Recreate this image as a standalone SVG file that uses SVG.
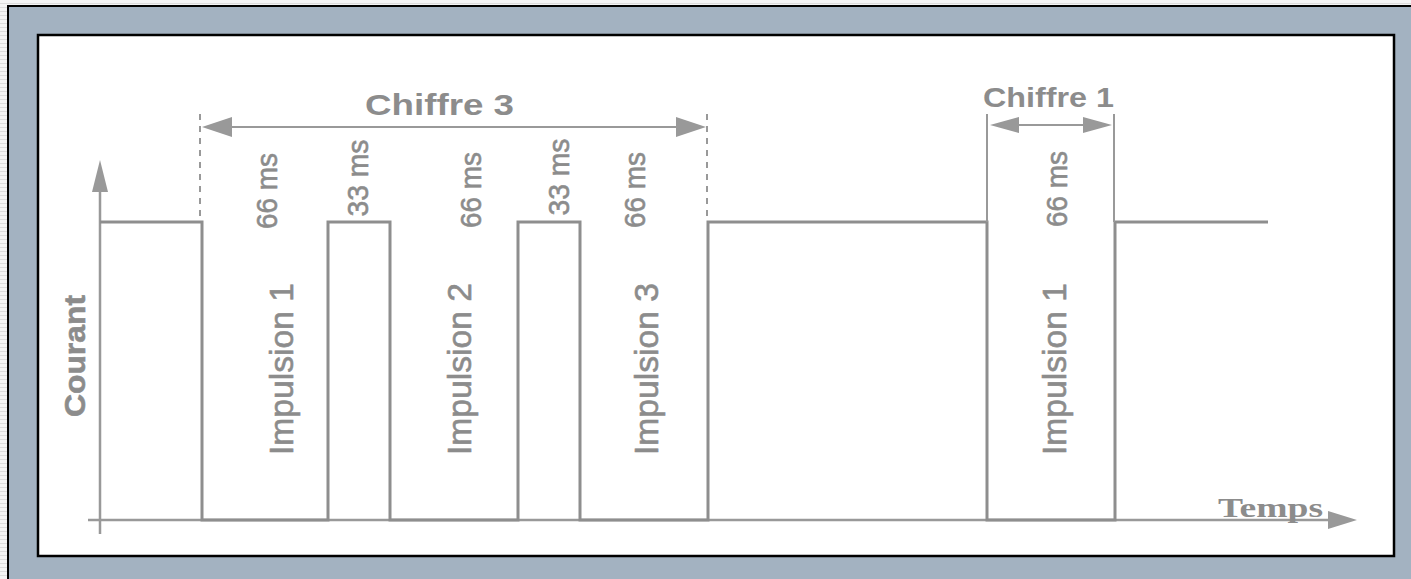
<svg xmlns="http://www.w3.org/2000/svg" width="1411" height="579" viewBox="0 0 1411 579">
<style>
.sig{fill:none;stroke:#8e8e8e;stroke-width:3}
.ax{fill:none;stroke:#999;stroke-width:2.5}
.dim{fill:none;stroke:#999;stroke-width:2}
.dash{fill:none;stroke:#999;stroke-width:2;stroke-dasharray:6 6}
.head{fill:#999}
.t{font-family:"Liberation Sans",Arial,sans-serif;fill:#8c8c8c}
.r{stroke:#8c8c8c;stroke-width:0.6}
.b{font-weight:bold}
</style>
<defs>
<pattern id="stripes" width="8" height="4" patternUnits="userSpaceOnUse">
<rect width="8" height="4" fill="#f4f4f4"/>
<rect y="3" width="8" height="1" fill="#dcdcdc"/>
</pattern>
</defs>
<rect x="0" y="0" width="1411" height="579" fill="url(#stripes)"/>
<rect x="8" y="6" width="1420" height="600" fill="#a3b2c1" stroke="#000" stroke-width="2"/>
<rect x="38" y="35" width="1356" height="521" fill="#fff" stroke="#000" stroke-width="2.5"/>
<g id="axes">
<line class="ax" x1="100" y1="534" x2="100" y2="188"/>
<polygon class="head" points="100,160 92,192 108,192"/>
<line class="ax" x1="88" y1="520" x2="1330" y2="520"/>
<polygon class="head" points="1357,520 1328,511 1328,529"/>
<text class="t r b" transform="translate(85,356) rotate(-90)" text-anchor="middle" font-size="30" textLength="122" lengthAdjust="spacingAndGlyphs">Courant</text>
<text x="1218" y="517" font-family="'Liberation Serif','Times New Roman',serif" font-weight="bold" font-size="28" fill="#8c8c8c" textLength="105" lengthAdjust="spacingAndGlyphs">Temps</text>
</g>
<g id="signal">
<path class="sig" d="M100,222 H202 V520 H328 V222 H390 V520 H518 V222 H580 V520 H708 V222 H987 V520 H1115 V222 H1268"/>
</g>
<g id="connectors">
<line class="dash" x1="200" y1="114" x2="200" y2="220"/>
<line class="dash" x1="707" y1="114" x2="707" y2="220"/>
<line class="dim" x1="987" y1="114" x2="987" y2="222"/>
<line class="dim" x1="1114" y1="114" x2="1114" y2="222"/>
<line class="dim" x1="230" y1="127" x2="678" y2="127"/>
<polygon class="head" points="202,127 232,117 232,137"/>
<polygon class="head" points="706,127 676,117 676,137"/>
<line class="dim" x1="1017" y1="125" x2="1085" y2="125"/>
<polygon class="head" points="990,125 1019,117 1019,133"/>
<polygon class="head" points="1112,125 1083,117 1083,133"/>
</g>
<g id="chiffre3">
<text class="t b" x="365" y="115" font-size="30" textLength="149" lengthAdjust="spacingAndGlyphs">Chiffre 3</text>
</g>
<g id="chiffre1">
<text class="t b" x="983" y="107" font-size="27" textLength="131" lengthAdjust="spacingAndGlyphs">Chiffre 1</text>
</g>
<g id="durations">
<text class="t r" transform="translate(277,191) rotate(-90)" text-anchor="middle" font-size="29" textLength="76" lengthAdjust="spacingAndGlyphs">66 ms</text>
<text class="t r" transform="translate(368,178) rotate(-90)" text-anchor="middle" font-size="29" textLength="77" lengthAdjust="spacingAndGlyphs">33 ms</text>
<text class="t r" transform="translate(481,190) rotate(-90)" text-anchor="middle" font-size="29" textLength="76" lengthAdjust="spacingAndGlyphs">66 ms</text>
<text class="t r" transform="translate(569,177) rotate(-90)" text-anchor="middle" font-size="29" textLength="77" lengthAdjust="spacingAndGlyphs">33 ms</text>
<text class="t r" transform="translate(645,190) rotate(-90)" text-anchor="middle" font-size="29" textLength="76" lengthAdjust="spacingAndGlyphs">66 ms</text>
<text class="t r" transform="translate(1067,189) rotate(-90)" text-anchor="middle" font-size="29" textLength="76" lengthAdjust="spacingAndGlyphs">66 ms</text>
</g>
<g id="impulsions">
<text class="t r" transform="translate(293,369) rotate(-90)" text-anchor="middle" font-size="33" textLength="172" lengthAdjust="spacingAndGlyphs">Impulsion 1</text>
<text class="t r" transform="translate(471,369) rotate(-90)" text-anchor="middle" font-size="33" textLength="172" lengthAdjust="spacingAndGlyphs">Impulsion 2</text>
<text class="t r" transform="translate(658,369) rotate(-90)" text-anchor="middle" font-size="33" textLength="172" lengthAdjust="spacingAndGlyphs">Impulsion 3</text>
<text class="t r" transform="translate(1066,369) rotate(-90)" text-anchor="middle" font-size="33" textLength="172" lengthAdjust="spacingAndGlyphs">Impulsion 1</text>
</g>
</svg>
